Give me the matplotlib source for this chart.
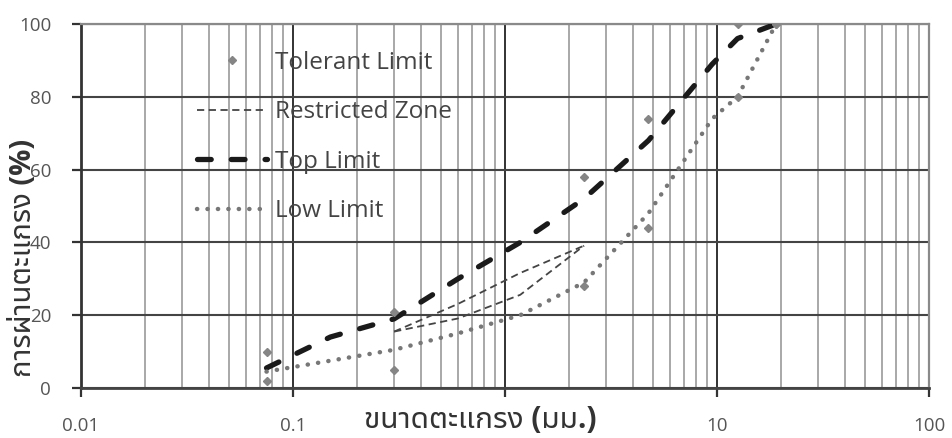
import matplotlib
matplotlib.use("Agg")
import matplotlib.pyplot as plt
from matplotlib import font_manager
from matplotlib.ft2font import FT2Font
from matplotlib.ticker import FixedLocator, NullFormatter

# ---------------- data ----------------
tol_sieve = [0.075, 0.075, 0.3, 0.3, 2.36, 2.36, 4.75, 4.75, 12.5, 12.5, 19, 19]
tol_pass = [10, 2, 21, 5, 58, 28, 74, 44, 100, 80, 100, 100]

rz_upper_sieve = [0.3, 0.6, 1.18, 2.36]
rz_upper_pass = [15.5, 23.1, 31.6, 39.1]
rz_lower_sieve = [0.3, 0.6, 1.18, 2.36]
rz_lower_pass = [15.5, 19.1, 25.6, 39.1]

top_sieve = [0.075, 0.15, 0.3, 0.6, 1.18, 2.36, 4.75, 9.5, 12.5, 19]
top_pass = [5.5, 14, 19, 30, 40, 52, 68, 89, 96, 100]

low_sieve = [0.075, 0.3, 0.6, 1.18, 2.36, 4.75, 9.5, 12.5, 19]
low_pass = [4.5, 10.5, 15, 20, 29, 48, 74, 80, 100]

x_ticks = [0.01, 0.1, 1, 10, 100]
x_tick_labels = ["0.01", "0.1", "", "10", "100"]
y_ticks = [0, 20, 40, 60, 80, 100]

series_labels = ["Tolerant Limit", "Restricted Zone", "Top Limit", "Low Limit"]
x_label = "ขนาดตะแกรง (มม.)"
y_label = "การผ่านตะแกรง (%)"

# ---------------- find a Thai-capable font ----------------
def find_thai_font():
    cands = []
    for f in font_manager.fontManager.ttflist:
        try:
            cm = FT2Font(f.fname).get_charmap()
        except Exception:
            continue
        if ord("ข") in cm and ord("ง") in cm:
            score = 0
            n = f.name.lower()
            if "sans" in n:
                score += 2
            if "looped" in n:
                score -= 3
            if "noto" in n:
                score += 1
            cands.append((score, f.name))
    if cands:
        cands.sort(reverse=True)
        return cands[0][1]
    return None

thai = find_thai_font()
fam = ["Open Sans"] + ([thai] if thai else []) + ["DejaVu Sans"]
plt.rcParams["font.family"] = fam

# ---------------- figure ----------------
fig = plt.figure(figsize=(9.52, 4.38), dpi=100)
ax = fig.add_axes([81 / 952, 1 - 388 / 438, 848 / 952, 364 / 438])
ax.set_xscale("log")
ax.set_xlim(0.01, 100)
ax.set_ylim(0, 100)

# grid
minor = [m * 10.0 ** e for e in range(-2, 2) for m in range(2, 10)]
ax.xaxis.set_minor_locator(FixedLocator(minor))
ax.xaxis.set_minor_formatter(NullFormatter())
ax.xaxis.set_major_locator(FixedLocator(x_ticks))
ax.set_xticklabels(x_tick_labels)
ax.yaxis.set_major_locator(FixedLocator(y_ticks))
ax.grid(which="minor", axis="x", color="#9a9a9a", lw=1.2, zorder=0)
ax.grid(which="major", axis="x", color="#222222", lw=1.3, zorder=0)
ax.grid(which="major", axis="y", color="#444444", lw=1.5, zorder=0)

for s in ["top", "right"]:
    ax.spines[s].set_color("#8a8a8a")
    ax.spines[s].set_linewidth(1.6)
ax.spines["left"].set_color("#333333")
ax.spines["left"].set_linewidth(2.0)
ax.spines["bottom"].set_color("#444444")
ax.spines["bottom"].set_linewidth(2.0)

ax.tick_params(axis="x", which="major", direction="out", length=6.5, width=1.6,
               color="#333333", labelsize=13.5, labelcolor="#555555", pad=14.5)
ax.tick_params(axis="x", which="minor", length=0)
ax.tick_params(axis="y", direction="out", length=6.5, width=1.6,
               color="#333333", labelsize=13.5, labelcolor="#555555", pad=15)

# series
ax.plot(tol_sieve, tol_pass, linestyle="none", marker="D", markersize=4.2,
        color="#858585", label=series_labels[0], zorder=4)
ax.plot(rz_upper_sieve, rz_upper_pass, color="#444444", lw=1.3,
        linestyle=(0, (4, 2.5)), label=series_labels[1], zorder=3)
ax.plot(rz_lower_sieve, rz_lower_pass, color="#444444", lw=1.3,
        linestyle=(0, (4, 2.5)), zorder=3)
ax.plot(top_sieve, top_pass, color="#1a1a1a", lw=3.8,
        linestyle=(0, (2.6, 3.8)), dash_capstyle="round",
        label=series_labels[2], zorder=3)
ax.plot(low_sieve, low_pass, color="#777777", lw=3.2,
        linestyle=(0, (0.05, 2.3)), dash_capstyle="round",
        label=series_labels[3], zorder=3)

leg = ax.legend(loc="upper left", bbox_to_anchor=(0.1368, 0.927), frameon=False,
                fontsize=17.5, handlelength=2.88, handletextpad=0.33,
                labelspacing=1.05, borderpad=0, borderaxespad=0)
for t in leg.get_texts():
    t.set_color("#444444")

# axis labels
fig.text(480 / 952, 1 - 420 / 438, x_label, ha="center", va="center",
         fontsize=21.5, fontweight="bold", color="#333333", zorder=10)
fig.text(24 / 952, 1 - 258 / 438, y_label, ha="center", va="center",
         rotation=90, fontsize=21, fontweight="bold", color="#333333")

fig.savefig("out.png", dpi=100)
